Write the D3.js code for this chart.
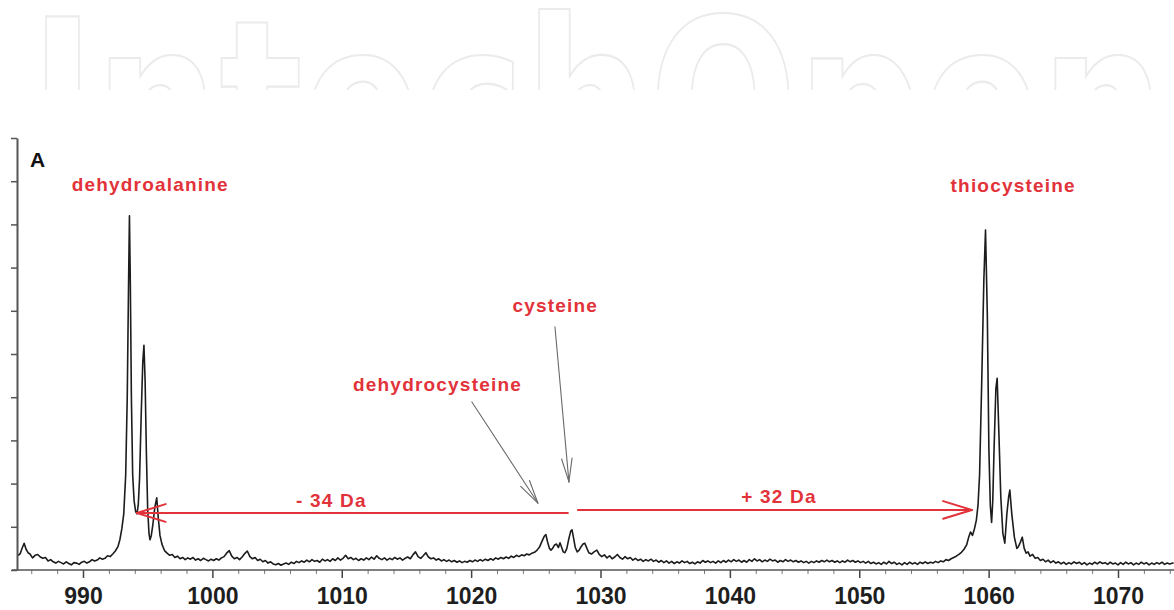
<!DOCTYPE html>
<html>
<head>
<meta charset="utf-8">
<script src="https://cdn.jsdelivr.net/npm/d3@7"></script>
<style>
  body { margin: 0; background: #fff; }
  svg { display: block; }
</style>
</head>
<body>
<div id="chart"></div>
<script>
// mass spectrum, [m/z, relative intensity]
var spectrum = [
  [985.0, 3.4], [985.15, 3.8], [985.3, 5.1], [985.45, 6.2], [985.6, 4.8], [985.75, 4.0], [985.9, 3.7],
  [986.1, 2.8], [986.3, 3.4], [986.5, 3.6], [986.7, 3.0], [986.9, 2.7], [987.1, 2.9], [987.3, 2.1],
  [987.5, 2.4], [987.7, 1.9], [987.9, 1.6], [988.1, 2.0], [988.3, 1.7], [988.5, 1.4], [988.7, 1.9],
  [988.9, 1.5], [989.1, 1.2], [989.3, 1.7], [989.5, 1.6], [989.7, 1.3], [989.9, 1.8], [990.1, 2.0],
  [990.3, 1.6], [990.5, 1.9], [990.7, 2.4], [990.9, 2.1], [991.1, 2.3], [991.3, 2.8], [991.5, 2.5],
  [991.7, 2.7], [991.9, 3.3], [992.1, 3.1], [992.3, 3.7], [992.5, 4.4], [992.7, 5.4], [992.85, 7.0],
  [993.0, 9.5], [993.15, 13], [993.3, 22], [993.42, 40], [993.52, 66], [993.59, 82], [993.66, 66],
  [993.74, 40], [993.84, 22], [993.95, 16], [994.07, 13.5], [994.17, 13], [994.27, 15], [994.37, 21],
  [994.5, 36], [994.62, 48], [994.71, 52], [994.8, 44], [994.9, 27], [995.0, 14], [995.1, 8.5],
  [995.18, 7], [995.28, 8], [995.4, 10.5], [995.55, 14.5], [995.7, 16.7], [995.82, 12], [995.95, 8],
  [996.1, 6], [996.3, 4.5], [996.5, 3.9], [996.7, 3.4], [996.9, 3.6], [997.1, 2.9], [997.3, 3.2],
  [997.5, 2.6], [997.7, 2.9], [997.9, 2.4], [998.1, 2.8], [998.3, 2.5], [998.5, 2.9], [998.7, 2.3],
  [998.9, 2.6], [999.1, 2.2], [999.3, 2.7], [999.5, 2.4], [999.7, 2.1], [999.9, 2.5], [1000.1, 2.2],
  [1000.3, 2.6], [1000.5, 2.3], [1000.7, 2.8], [1000.9, 3.1], [1001.1, 3.9], [1001.3, 4.5], [1001.5, 3.2],
  [1001.7, 2.6], [1001.9, 2.9], [1002.1, 2.4], [1002.3, 3.0], [1002.5, 3.8], [1002.7, 4.4], [1002.9, 3.1],
  [1003.1, 2.6], [1003.3, 2.9], [1003.5, 2.2], [1003.7, 2.5], [1003.9, 1.9], [1004.1, 2.2], [1004.3, 1.6],
  [1004.5, 1.9], [1004.7, 1.4], [1004.9, 1.2], [1005.1, 1.5], [1005.3, 1.1], [1005.5, 1.4], [1005.7, 1.6],
  [1005.9, 1.3], [1006.1, 1.8], [1006.3, 1.5], [1006.5, 2.0], [1006.7, 1.7], [1006.9, 2.1], [1007.1, 1.8],
  [1007.3, 2.3], [1007.5, 1.9], [1007.7, 2.4], [1007.9, 2.0], [1008.1, 2.2], [1008.3, 1.8], [1008.5, 2.5],
  [1008.7, 2.1], [1008.9, 2.4], [1009.1, 2.0], [1009.3, 2.6], [1009.5, 2.2], [1009.7, 2.8], [1009.9, 2.3],
  [1010.1, 2.7], [1010.3, 3.4], [1010.5, 2.6], [1010.7, 2.9], [1010.9, 2.4], [1011.1, 2.7], [1011.3, 2.2],
  [1011.5, 2.6], [1011.7, 2.3], [1011.9, 2.8], [1012.1, 2.4], [1012.3, 3.0], [1012.5, 2.5], [1012.7, 3.3],
  [1012.9, 2.7], [1013.1, 2.4], [1013.3, 2.8], [1013.5, 2.3], [1013.7, 2.7], [1013.9, 2.4], [1014.1, 2.9],
  [1014.3, 2.5], [1014.5, 2.8], [1014.7, 2.3], [1014.9, 2.7], [1015.1, 3.0], [1015.3, 2.6], [1015.5, 3.5],
  [1015.7, 4.2], [1015.9, 3.1], [1016.1, 2.7], [1016.3, 3.3], [1016.5, 4.0], [1016.7, 3.0], [1016.9, 2.6],
  [1017.1, 2.8], [1017.3, 2.3], [1017.5, 2.6], [1017.7, 2.1], [1017.9, 2.4], [1018.1, 2.0], [1018.3, 2.3],
  [1018.5, 1.9], [1018.7, 2.2], [1018.9, 1.8], [1019.1, 2.1], [1019.3, 1.7], [1019.5, 2.0], [1019.7, 1.8],
  [1019.9, 2.2], [1020.1, 1.9], [1020.3, 2.3], [1020.5, 2.0], [1020.7, 2.4], [1020.9, 2.1], [1021.1, 2.5],
  [1021.3, 2.2], [1021.5, 2.6], [1021.7, 2.3], [1021.9, 2.8], [1022.1, 2.5], [1022.3, 2.9], [1022.5, 2.6],
  [1022.7, 3.0], [1022.9, 2.7], [1023.1, 3.2], [1023.3, 2.9], [1023.5, 3.4], [1023.7, 3.1], [1023.9, 3.5],
  [1024.1, 3.3], [1024.3, 3.7], [1024.5, 3.5], [1024.7, 3.9], [1024.9, 4.1], [1025.1, 4.6], [1025.3, 5.4],
  [1025.5, 6.8], [1025.65, 7.8], [1025.78, 8.2], [1025.9, 6.6], [1026.05, 5.0], [1026.17, 4.6], [1026.3, 5.0],
  [1026.45, 5.8], [1026.6, 6.0], [1026.75, 5.2], [1026.87, 6.3], [1027.0, 5.2], [1027.12, 4.2], [1027.25, 4.0],
  [1027.4, 5.0], [1027.55, 7.2], [1027.7, 9.0], [1027.8, 9.3], [1027.92, 7.4], [1028.05, 5.2], [1028.2, 4.2],
  [1028.35, 4.6], [1028.5, 5.4], [1028.65, 6.0], [1028.79, 6.2], [1028.95, 5.0], [1029.1, 4.0], [1029.3, 3.7],
  [1029.5, 4.2], [1029.72, 4.6], [1029.9, 3.6], [1030.1, 3.1], [1030.3, 3.5], [1030.5, 2.8], [1030.7, 3.3],
  [1030.9, 2.6], [1031.1, 3.0], [1031.3, 3.6], [1031.5, 2.9], [1031.7, 2.5], [1031.9, 3.1], [1032.1, 2.6],
  [1032.3, 2.9], [1032.5, 2.3], [1032.7, 2.7], [1032.9, 2.2], [1033.1, 2.5], [1033.3, 2.0], [1033.5, 2.4],
  [1033.7, 2.1], [1033.9, 2.5], [1034.1, 2.0], [1034.3, 2.3], [1034.5, 1.8], [1034.7, 2.2], [1034.9, 1.7],
  [1035.1, 2.1], [1035.3, 1.6], [1035.5, 2.0], [1035.7, 1.5], [1035.9, 1.9], [1036.1, 1.6], [1036.3, 2.1],
  [1036.5, 1.7], [1036.7, 2.0], [1036.9, 1.5], [1037.1, 1.8], [1037.3, 1.4], [1037.5, 1.9], [1037.7, 1.6],
  [1037.9, 2.2], [1038.1, 1.8], [1038.3, 2.1], [1038.5, 1.7], [1038.7, 2.0], [1038.9, 1.6], [1039.1, 2.1],
  [1039.3, 1.7], [1039.5, 2.2], [1039.7, 1.8], [1039.9, 2.3], [1040.1, 1.9], [1040.3, 2.4], [1040.5, 2.0],
  [1040.7, 2.3], [1040.9, 1.8], [1041.1, 2.2], [1041.3, 1.8], [1041.5, 2.4], [1041.7, 2.0], [1041.9, 2.6],
  [1042.1, 2.1], [1042.3, 2.4], [1042.5, 1.9], [1042.7, 2.3], [1042.9, 2.0], [1043.1, 2.5], [1043.3, 2.1],
  [1043.5, 2.3], [1043.7, 1.8], [1043.9, 2.2], [1044.1, 1.9], [1044.3, 2.4], [1044.5, 2.0], [1044.7, 2.3],
  [1044.9, 1.9], [1045.1, 2.2], [1045.3, 1.8], [1045.5, 2.1], [1045.7, 1.7], [1045.9, 2.0], [1046.1, 1.6],
  [1046.3, 2.0], [1046.5, 1.7], [1046.7, 2.1], [1046.9, 1.8], [1047.1, 2.2], [1047.3, 1.9], [1047.5, 2.3],
  [1047.7, 1.9], [1047.9, 2.2], [1048.1, 1.8], [1048.3, 2.1], [1048.5, 1.7], [1048.7, 2.1], [1048.9, 1.8],
  [1049.1, 2.3], [1049.3, 1.9], [1049.5, 2.2], [1049.7, 1.8], [1049.9, 2.1], [1050.1, 1.7], [1050.3, 2.0],
  [1050.5, 1.6], [1050.7, 2.0], [1050.9, 1.5], [1051.1, 1.8], [1051.3, 1.4], [1051.5, 1.7], [1051.7, 1.3],
  [1051.9, 1.8], [1052.1, 1.4], [1052.3, 2.0], [1052.5, 1.5], [1052.7, 1.8], [1052.9, 1.3], [1053.1, 1.6],
  [1053.3, 1.2], [1053.5, 1.7], [1053.7, 1.3], [1053.9, 1.8], [1054.1, 1.4], [1054.3, 1.7], [1054.5, 1.3],
  [1054.7, 1.8], [1054.9, 1.5], [1055.1, 1.9], [1055.3, 1.5], [1055.5, 1.8], [1055.7, 1.6], [1055.9, 2.0],
  [1056.1, 1.7], [1056.3, 2.1], [1056.5, 1.9], [1056.7, 2.4], [1056.9, 2.2], [1057.1, 2.6], [1057.3, 2.9],
  [1057.5, 3.2], [1057.7, 3.6], [1057.9, 4.1], [1058.1, 4.8], [1058.3, 5.8], [1058.45, 7.5], [1058.6, 8.8],
  [1058.75, 8.0], [1058.9, 9.5], [1059.05, 11.5], [1059.18, 15], [1059.3, 22], [1059.47, 44], [1059.63, 67],
  [1059.76, 78.7], [1059.9, 59], [1060.02, 28], [1060.13, 15], [1060.23, 11], [1060.32, 16], [1060.42, 28],
  [1060.56, 42], [1060.66, 44.4], [1060.79, 32], [1060.94, 17], [1061.1, 8.5], [1061.25, 6.2], [1061.41, 13],
  [1061.55, 17], [1061.64, 18.5], [1061.79, 13], [1061.99, 7.6], [1062.18, 5.0], [1062.3, 5.4], [1062.45, 6.4],
  [1062.6, 7.6], [1062.75, 5.0], [1062.9, 3.9], [1063.05, 4.2], [1063.2, 3.2], [1063.4, 3.6], [1063.6, 2.7],
  [1063.8, 2.9], [1064.0, 2.2], [1064.2, 2.5], [1064.4, 1.9], [1064.6, 2.3], [1064.8, 1.7], [1065.0, 2.1],
  [1065.2, 1.6], [1065.4, 1.9], [1065.6, 1.4], [1065.8, 1.8], [1066.0, 1.3], [1066.2, 1.7], [1066.4, 1.4],
  [1066.6, 1.9], [1066.8, 1.5], [1067.0, 1.8], [1067.2, 1.3], [1067.4, 1.7], [1067.6, 1.2], [1067.8, 1.6],
  [1068.0, 1.3], [1068.2, 1.8], [1068.4, 1.4], [1068.6, 1.9], [1068.8, 1.5], [1069.0, 1.7], [1069.2, 1.3],
  [1069.4, 1.8], [1069.6, 1.4], [1069.8, 1.6], [1070.0, 1.2], [1070.2, 1.7], [1070.4, 1.3], [1070.6, 1.8],
  [1070.8, 1.4], [1071.0, 1.7], [1071.2, 1.2], [1071.4, 1.6], [1071.6, 1.3], [1071.8, 1.8], [1072.0, 1.4],
  [1072.2, 1.7], [1072.4, 1.2], [1072.6, 1.6], [1072.8, 1.3], [1073.0, 1.7], [1073.2, 1.4], [1073.4, 1.8],
  [1073.6, 1.3], [1073.8, 1.6], [1074.0, 1.4], [1074.3, 1.7]
];

var xMajorTicks = [990, 1000, 1010, 1020, 1030, 1040, 1050, 1060, 1070];
var yTicks = [0, 10, 20, 30, 40, 50, 60, 70, 80, 90, 100];

// red text labels: [text, m/z of centre, intensity of baseline]
var labels = [
  ["dehydroalanine", 995.2, 87.7],
  ["thiocysteine", 1061.9, 87.5],
  ["cysteine", 1026.5, 59.7],
  ["dehydrocysteine", 1017.4, 41.4],
  ["- 34 Da", 1009.2, 14.6],
  ["+ 32 Da", 1043.8, 15.5]
];

// mass-shift arrows (red) and pointer arrows (grey): [from m/z, from I, to m/z, to I]
var shiftArrows = [
  [1027.48, 13.2, 994.17, 13.2],
  [1028.25, 13.9, 1058.70, 13.9]
];
var pointerArrows = [
  [1020.06, 38.9, 1025.16, 15.5],
  [1026.48, 56.3, 1027.56, 20.4]
];

var width = 1174;
var height = 610;
var red = "#e2323a";

var svg = d3.select("#chart")
  .append("svg")
  .attr("width", width)
  .attr("height", height);

var x = d3.scaleLinear().domain([990, 1070]).range([83, 1118]);
var y = d3.scaleLinear().domain([0, 100]).range([570, 138]);

// faint publisher watermark at the top, cut off at its lower part
svg.append("clipPath").attr("id", "wmclip")
  .append("rect").attr("x", 0).attr("y", 0).attr("width", width).attr("height", 90);
svg.append("text")
  .attr("clip-path", "url(#wmclip)")
  .attr("x", 30)
  .attr("y", 183)
  .attr("textLength", 1135)
  .attr("lengthAdjust", "spacingAndGlyphs")
  .attr("font-family", "DejaVu Sans")
  .attr("font-weight", "bold")
  .attr("font-size", 228)
  .attr("fill", "none")
  .attr("stroke", "#ebebeb")
  .attr("stroke-width", 2.2)
  .text("IntechOpen");

// x axis
var xAxis = svg.append("g")
  .attr("transform", "translate(0," + y(0) + ")")
  .call(d3.axisBottom(x).tickValues(xMajorTicks).tickSize(8).tickPadding(10).tickFormat(d3.format("d")));
xAxis.select(".domain").remove();
xAxis.selectAll(".tick line").attr("stroke", "#444").attr("stroke-width", 1.5);
xAxis.selectAll(".tick text")
  .attr("font-family", "Liberation Sans, Arial, sans-serif")
  .attr("font-weight", "bold")
  .attr("font-size", 23)
  .attr("fill", "#1e1e1e");

var minor = svg.append("g")
  .attr("transform", "translate(0," + y(0) + ")")
  .call(d3.axisBottom(x).tickValues(d3.range(986, 1075, 2).filter(function(d) { return d % 10 != 0; }))
    .tickSize(4).tickFormat(""));
minor.select(".domain").remove();
minor.selectAll(".tick line").attr("stroke", "#777").attr("stroke-width", 1);

svg.append("line")
  .attr("x1", 12).attr("x2", width)
  .attr("y1", y(0)).attr("y2", y(0))
  .attr("stroke", "#555").attr("stroke-width", 1.6);

// y axis, no labels
var yAxis = svg.append("g")
  .attr("transform", "translate(17,0)")
  .call(d3.axisLeft(y).tickValues(yTicks).tickSize(6).tickSizeOuter(0).tickFormat(""));
yAxis.select(".domain").attr("stroke", "#555").attr("stroke-width", 2);
yAxis.selectAll(".tick line").attr("stroke", "#555").attr("stroke-width", 1.5);

svg.append("text")
  .attr("x", 30).attr("y", 167)
  .attr("font-family", "Liberation Sans, Arial, sans-serif")
  .attr("font-weight", "bold")
  .attr("font-size", 21)
  .attr("fill", "#111")
  .text("A");

// spectrum trace
var line = d3.line()
  .x(function(d) { return x(d[0]); })
  .y(function(d) { return y(d[1]); });

svg.append("path")
  .datum(spectrum)
  .attr("d", line)
  .attr("fill", "none")
  .attr("stroke", "#1c1c1c")
  .attr("stroke-width", 1.6)
  .attr("stroke-linejoin", "round");

function drawArrow(a, color, w, headLen, headAngle) {
  var x1 = x(a[0]), y1 = y(a[1]), x2 = x(a[2]), y2 = y(a[3]);
  var ang = Math.atan2(y2 - y1, x2 - x1);
  var g = svg.append("g").attr("stroke", color).attr("stroke-width", w).attr("fill", "none")
    .attr("stroke-linecap", "round");
  g.append("line").attr("x1", x1).attr("y1", y1).attr("x2", x2).attr("y2", y2);
  [-1, 1].forEach(function(s) {
    g.append("line")
      .attr("x1", x2).attr("y1", y2)
      .attr("x2", x2 - headLen * Math.cos(ang + s * headAngle))
      .attr("y2", y2 - headLen * Math.sin(ang + s * headAngle));
  });
}

shiftArrows.forEach(function(a) { drawArrow(a, red, 2, 30, 0.3); });
pointerArrows.forEach(function(a) { drawArrow(a, "#6a6a6a", 1.1, 24, 0.22); });

svg.selectAll(".lbl")
  .data(labels)
  .enter()
  .append("text")
  .attr("class", "lbl")
  .attr("x", function(d) { return x(d[1]); })
  .attr("y", function(d) { return y(d[2]); })
  .attr("text-anchor", "middle")
  .attr("font-family", "Liberation Sans, Arial, sans-serif")
  .attr("font-weight", "bold")
  .attr("font-size", 19)
  .attr("letter-spacing", 1.2)
  .attr("fill", red)
  .text(function(d) { return d[0]; });
</script>
</body>
</html>
